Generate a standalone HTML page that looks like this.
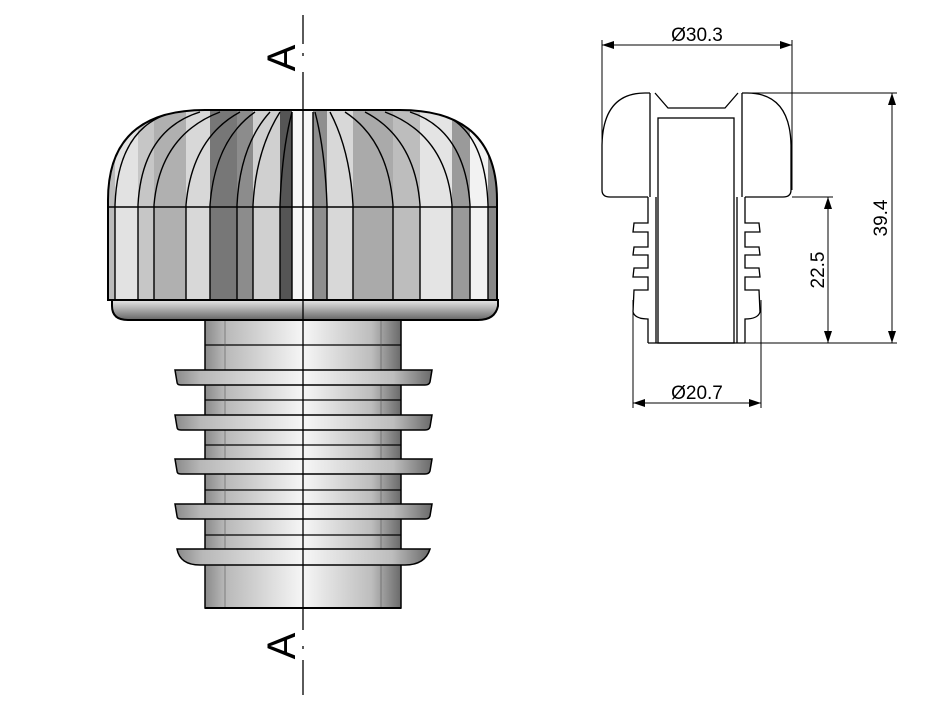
<!DOCTYPE html>
<html><head><meta charset="utf-8"><style>
html,body{margin:0;padding:0;background:#fff;}
svg{display:block;}
text{font-family:"Liberation Sans",Arial,sans-serif;}
</style></head><body>
<svg width="934" height="711" viewBox="0 0 934 711" xmlns="http://www.w3.org/2000/svg">
<defs>
<linearGradient id="cyl" x1="0" x2="1" y1="0" y2="0">
<stop offset="0" stop-color="#8a8a8a"/><stop offset="0.1" stop-color="#b8b8b8"/><stop offset="0.5" stop-color="#f6f6f6"/><stop offset="0.85" stop-color="#bdbdbd"/><stop offset="1" stop-color="#6a6a6a"/>
</linearGradient>
<linearGradient id="rim" x1="0" x2="0" y1="0" y2="1">
<stop offset="0" stop-color="#e8e8e8"/><stop offset="1" stop-color="#666"/>
</linearGradient>
<clipPath id="capclip"><path d="M108,300 L108,200 Q108,110 205,110 L400,110 Q497,110 497,200 L497,300 Z"/></clipPath>
<marker id="ar" markerWidth="12" markerHeight="8" refX="12" refY="4" orient="auto" markerUnits="userSpaceOnUse"><path d="M0,0 L12,4 L0,8 Z" fill="#000"/></marker>
<marker id="al" markerWidth="12" markerHeight="8" refX="0" refY="4" orient="auto" markerUnits="userSpaceOnUse"><path d="M12,0 L0,4 L12,8 Z" fill="#000"/></marker>
</defs>

<!-- body -->
<rect x="205" y="318" width="196" height="290" fill="url(#cyl)" stroke="#000" stroke-width="1.5"/>
<g stroke="#000" stroke-width="1.2">
<line x1="205" y1="345" x2="401" y2="345"/>
<line x1="205" y1="400" x2="401" y2="400"/>
<line x1="205" y1="445" x2="401" y2="445"/>
<line x1="205" y1="490" x2="401" y2="490"/>
<line x1="205" y1="535" x2="401" y2="535"/>
</g>
<line x1="225" y1="318" x2="225" y2="608" stroke="#555" stroke-width="0.6"/>
<line x1="381" y1="318" x2="381" y2="608" stroke="#555" stroke-width="0.6"/>
<!-- flanges -->
<g stroke="#000" stroke-width="1.5" fill="url(#cyl)">
<path d="M175,370 L432,370 L430,382 Q429,385 425,385 L181,385 Q177,385 177,382 Z"/>
<path d="M175,415 L432,415 L430,427 Q429,430 425,430 L181,430 Q177,430 177,427 Z"/>
<path d="M175,459 L432,459 L430,471 Q429,474 425,474 L181,474 Q177,474 177,471 Z"/>
<path d="M175,504 L432,504 L430,516 Q429,519 425,519 L181,519 Q177,519 177,516 Z"/>
<path d="M177,549 L430,549 Q425,565 405,565 L200,565 Q180,565 177,549 Z"/>
</g>
<line x1="205" y1="608" x2="401" y2="608" stroke="#000" stroke-width="2"/>

<!-- cap -->
<g clip-path="url(#capclip)">
<rect x="100" y="100" width="410" height="210" fill="#ddd"/>
<rect x="108" y="110" width="7" height="200" fill="#bbb"/>
<rect x="115" y="110" width="23" height="200" fill="#e2e2e2"/>
<rect x="138" y="110" width="16" height="200" fill="#c6c6c6"/>
<rect x="154" y="110" width="32" height="200" fill="#b0b0b0"/>
<rect x="186" y="110" width="24" height="200" fill="#d8d8d8"/>
<rect x="210" y="110" width="27" height="200" fill="#777"/>
<rect x="237" y="110" width="16" height="200" fill="#8c8c8c"/>
<rect x="253" y="110" width="27" height="200" fill="#d0d0d0"/>
<rect x="280" y="110" width="12" height="200" fill="#555"/>
<rect x="292" y="110" width="21" height="200" fill="#f8f8f8"/>
<rect x="313" y="110" width="14" height="200" fill="#8e8e8e"/>
<rect x="327" y="110" width="26" height="200" fill="#d8d8d8"/>
<rect x="353" y="110" width="40" height="200" fill="#aaa"/>
<rect x="393" y="110" width="27" height="200" fill="#bdbdbd"/>
<rect x="420" y="110" width="32" height="200" fill="#e4e4e4"/>
<rect x="452" y="110" width="18" height="200" fill="#9a9a9a"/>
<rect x="470" y="110" width="18" height="200" fill="#f2f2f2"/>
<rect x="488" y="110" width="9" height="200" fill="#888"/>
<g stroke="#000" stroke-width="1.4" fill="none">
<path d="M115,300 L115,205 Q118,125 175,112"/>
<path d="M138,300 L138,205 Q142,130 200,112"/>
<path d="M154,300 L154,205 Q160,135 220,112"/>
<path d="M186,300 L186,205 Q192,138 240,112"/>
<path d="M210,300 L210,205 Q215,140 255,112"/>
<path d="M237,300 L237,205 Q240,145 270,112"/>
<path d="M253,300 L253,205 Q256,150 280,112"/>
<path d="M280,300 L280,205 Q282,150 292,112"/>
<path d="M292,300 L292,112"/>
<path d="M313,300 L313,112"/>
<path d="M327,300 L327,205 Q325,150 315,112"/>
<path d="M353,300 L353,205 Q350,150 330,112"/>
<path d="M393,300 L393,205 Q388,140 345,112"/>
<path d="M420,300 L420,205 Q415,138 365,112"/>
<path d="M452,300 L452,205 Q446,135 385,112"/>
<path d="M470,300 L470,205 Q465,130 410,112"/>
<path d="M488,300 L488,205 Q485,125 435,112"/>
<line x1="100" y1="207" x2="510" y2="207"/>
</g>
</g>
<path d="M108,300 L108,200 Q108,110 205,110 L400,110 Q497,110 497,200 L497,300 Z" fill="none" stroke="#000" stroke-width="2"/>
<!-- rim -->
<path d="M112,300 L498,300 L498,306 Q495,320 478,320 L128,320 Q112,320 112,306 Z" fill="url(#rim)" stroke="#000" stroke-width="2"/>

<!-- centerline -->
<g stroke="#000" stroke-width="1.3">
<line x1="303" y1="15" x2="303" y2="44"/>
<line x1="303" y1="53" x2="303" y2="56"/>
<line x1="303" y1="72" x2="303" y2="608"/>
<line x1="303" y1="608" x2="303" y2="630"/>
<line x1="303" y1="646" x2="303" y2="649"/>
<line x1="303" y1="660" x2="303" y2="695"/>
</g>
<text x="0" y="0" font-size="40" transform="translate(295,58) rotate(-90)" text-anchor="middle">A</text>
<text x="0" y="0" font-size="40" transform="translate(295,646) rotate(-90)" text-anchor="middle">A</text>

<!-- right drawing -->
<g stroke="#000" stroke-width="1.3" fill="none">
<path d="M650,93 L645,93 Q603,93 602,145 L602,190 Q602,197 610,197 L648,197"/>
<path d="M742,93 L747,93 Q790,93 791,145 L791,190 Q791,197 783,197 L745,197"/>
<line x1="650" y1="93" x2="650" y2="197"/>
<line x1="742" y1="93" x2="742" y2="197"/>
<path d="M655,93 L668,108 L725,108 L738,93"/>
<rect x="658" y="118" width="76" height="225"/>
<path d="M648,197 L648,223 L634,223 L633,232 L648,232 L648,247 L634,247 L633,255 L648,255 L648,268 L634,268 L633,277 L648,277 L648,290 L634,290 L633,312 Q635,319 648,319 L648,343"/>
<path d="M745,197 L745,223 L759,223 L760,232 L745,232 L745,247 L759,247 L760,255 L745,255 L745,268 L759,268 L760,277 L745,277 L745,290 L759,290 L760,312 Q758,319 745,319 L745,343"/>
<line x1="648" y1="343" x2="745" y2="343"/>
<line x1="656" y1="197" x2="656" y2="343"/>
<line x1="737" y1="197" x2="737" y2="343"/>
</g>
<g stroke="#000" stroke-width="1">
<line x1="602" y1="40" x2="602" y2="190"/>
<line x1="792" y1="40" x2="792" y2="190"/>
<line x1="602" y1="45" x2="792" y2="45" marker-start="url(#al)" marker-end="url(#ar)"/>
<line x1="742" y1="93" x2="897" y2="93"/>
<line x1="745" y1="343" x2="897" y2="343"/>
<line x1="892" y1="93" x2="892" y2="343" marker-start="url(#al)" marker-end="url(#ar)"/>
<line x1="792" y1="197" x2="833" y2="197"/>
<line x1="828" y1="197" x2="828" y2="343" marker-start="url(#al)" marker-end="url(#ar)"/>
<line x1="633" y1="300" x2="633" y2="408"/>
<line x1="761" y1="300" x2="761" y2="408"/>
<line x1="633" y1="403" x2="761" y2="403" marker-start="url(#al)" marker-end="url(#ar)"/>
</g>
<text x="697" y="41" font-size="19" text-anchor="middle">Ø30.3</text>
<text x="0" y="0" font-size="19" text-anchor="middle" transform="translate(887,218) rotate(-90)">39.4</text>
<text x="0" y="0" font-size="19" text-anchor="middle" transform="translate(824,270) rotate(-90)">22.5</text>
<text x="697" y="399" font-size="19" text-anchor="middle">Ø20.7</text>
</svg>
</body></html>
